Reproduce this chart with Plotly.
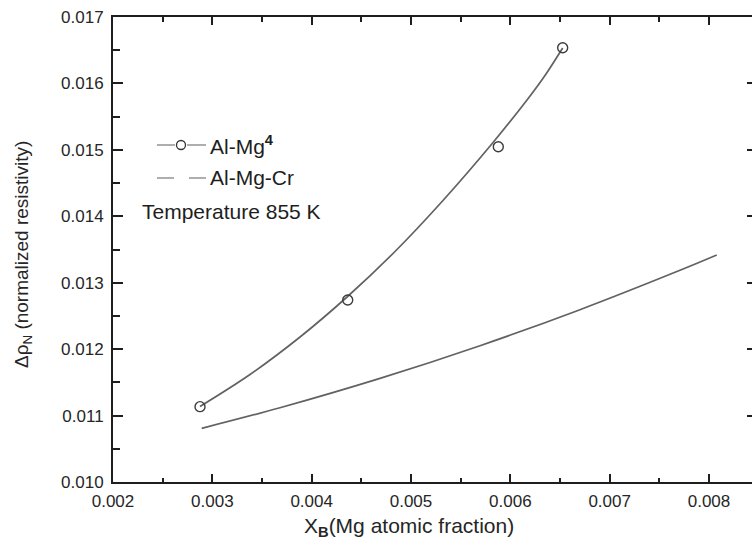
import plotly.graph_objects as go

# Data
mg_x = [0.002876, 0.004363, 0.005879, 0.006527]
mg_y = [0.011134, 0.012740, 0.015047, 0.016538]

mg_fit_x = [0.002876, 0.003379, 0.003883, 0.004356, 0.004839, 0.005322, 0.005826, 0.006168, 0.006349, 0.006527]
mg_fit_y = [0.011137, 0.011618, 0.012183, 0.012785, 0.013470, 0.014238, 0.015111, 0.015750, 0.016119, 0.016533]

cr_x = [0.002893, 0.003681, 0.004688, 0.005695, 0.006701, 0.007708, 0.008078]
cr_y = [0.010808, 0.011118, 0.011560, 0.012052, 0.012594, 0.013187, 0.013417]

x_ticks = [0.002, 0.003, 0.004, 0.005, 0.006, 0.007, 0.008]
y_ticks = [0.010, 0.011, 0.012, 0.013, 0.014, 0.015, 0.016, 0.017]

W, H = 752, 549
L, T = 113, 17
BOTTOM = 482
B = H - BOTTOM
PW, PH = W - L, BOTTOM - T
XR = [0.002, 0.002 + PW / 99.33 * 0.001]
YR = [0.010, 0.017]

FONT = "Liberation Sans, Arial, sans-serif"
AX = "#1e1e1e"
TXT = "#262626"
CURVE = "#626262"

def px(x):  # screen pixel -> paper
    return (x - L) / PW

def py(y):
    return (BOTTOM - y) / PH

fig = go.Figure()
fig.add_trace(go.Scatter(x=cr_x, y=cr_y, mode="lines", line=dict(color=CURVE, width=1.7, shape="spline"),
                         showlegend=False, hoverinfo="skip"))
fig.add_trace(go.Scatter(x=mg_fit_x, y=mg_fit_y, mode="lines", line=dict(color=CURVE, width=1.7, shape="spline"),
                         showlegend=False, hoverinfo="skip"))
fig.add_trace(go.Scatter(x=mg_x, y=mg_y, mode="markers",
                         marker=dict(symbol="circle-open", size=10, color="#3c3c3c", line=dict(width=1.4)),
                         showlegend=False))
# invisible trace on the mirrored axes so they are always drawn
fig.add_trace(go.Scatter(x=[XR[0]], y=[YR[0]], xaxis="x2", yaxis="y2", mode="markers",
                         marker=dict(opacity=0), showlegend=False, hoverinfo="skip"))

tickfont = dict(family=FONT, size=17, color=TXT)
fig.update_layout(
    width=W, height=H,
    margin=dict(l=L, r=0, t=T, b=B, autoexpand=False),
    plot_bgcolor="white", paper_bgcolor="white",
    xaxis=dict(range=XR, tickvals=x_ticks, ticktext=[f"{v:.3f}" for v in x_ticks],
               ticks="inside", ticklen=8, tickwidth=2, tickcolor=AX,
               showline=True, linewidth=2, linecolor=AX, showgrid=False, zeroline=False,
               minor=dict(dtick=0.0005, tick0=0.002, ticks="inside", ticklen=4, tickwidth=2, tickcolor=AX, showgrid=False),
               tickfont=tickfont, ticklabelstandoff=3),
    yaxis=dict(range=YR, tickvals=y_ticks, ticktext=[f"{v:.3f}" for v in y_ticks],
               ticks="inside", ticklen=10, tickwidth=2, tickcolor=AX,
               showline=True, linewidth=2, linecolor=AX, showgrid=False, zeroline=False,
               minor=dict(dtick=0.0005, tick0=0.010, ticks="inside", ticklen=7, tickwidth=2, tickcolor=AX, showgrid=False),
               tickfont=tickfont, ticklabelstandoff=4),
    xaxis2=dict(range=XR, overlaying="x", side="top", anchor="y2", tickvals=x_ticks, showticklabels=False,
                ticks="inside", ticklen=8, tickwidth=2, tickcolor=AX,
                showline=True, linewidth=2, linecolor=AX, showgrid=False, zeroline=False,
                minor=dict(dtick=0.0005, tick0=0.002, ticks="inside", ticklen=5, tickwidth=2, tickcolor=AX, showgrid=False)),
    yaxis2=dict(range=YR, overlaying="y", side="right", anchor="x2", tickvals=y_ticks, showticklabels=False,
                ticks="inside", ticklen=5, tickwidth=2, tickcolor=AX,
                showline=False, showgrid=False, zeroline=False),
    showlegend=False,
)

TS = 21
ann = [
    dict(x=px(302), y=py(527), xref="paper", yref="paper", xanchor="left", yanchor="middle",
         text="X<sub><b>B</b></sub>(Mg atomic fraction)", showarrow=False,
         font=dict(family=FONT, size=TS, color=TXT)),
    dict(x=px(23), y=py(255), xref="paper", yref="paper", xanchor="center", yanchor="middle",
         text="Δρ<sub>N</sub> (normalized resistivity)", textangle=-90, showarrow=False,
         font=dict(family=FONT, size=19, color=TXT)),
    dict(x=px(208), y=py(145), xref="paper", yref="paper", xanchor="left", yanchor="middle",
         text="Al-Mg<sup><b>4</b></sup>", showarrow=False, font=dict(family=FONT, size=TS, color="#1e1e1e")),
    dict(x=px(208), y=py(178), xref="paper", yref="paper", xanchor="left", yanchor="middle",
         text="Al-Mg-Cr", showarrow=False, font=dict(family=FONT, size=TS, color="#1e1e1e")),
    dict(x=px(140), y=py(212), xref="paper", yref="paper", xanchor="left", yanchor="middle",
         text="Temperature 855 K", showarrow=False, font=dict(family=FONT, size=TS, color="#1e1e1e")),
]
fig.update_layout(annotations=ann)

LEG = "#9a9a9a"
shapes = [
    dict(type="line", xref="paper", yref="paper", x0=px(157), x1=px(175), y0=py(145), y1=py(145),
         line=dict(color=LEG, width=1.6)),
    dict(type="line", xref="paper", yref="paper", x0=px(187), x1=px(206), y0=py(145), y1=py(145),
         line=dict(color=LEG, width=1.6)),
    dict(type="circle", xref="paper", yref="paper", xsizemode="pixel", ysizemode="pixel",
         xanchor=px(181), yanchor=py(145), x0=-4.5, x1=4.5, y0=-4.5, y1=4.5,
         line=dict(color="#333", width=1.3), fillcolor="white"),
    dict(type="line", xref="paper", yref="paper", x0=px(157), x1=px(174), y0=py(178), y1=py(178),
         line=dict(color=LEG, width=1.6)),
    dict(type="line", xref="paper", yref="paper", x0=px(189), x1=px(206), y0=py(178), y1=py(178),
         line=dict(color=LEG, width=1.6)),
]
fig.update_layout(shapes=shapes)

fig.write_html("out.html", config={"displayModeBar": False},
               post_script="document.body.style.margin='0';document.body.style.overflow='hidden';")
